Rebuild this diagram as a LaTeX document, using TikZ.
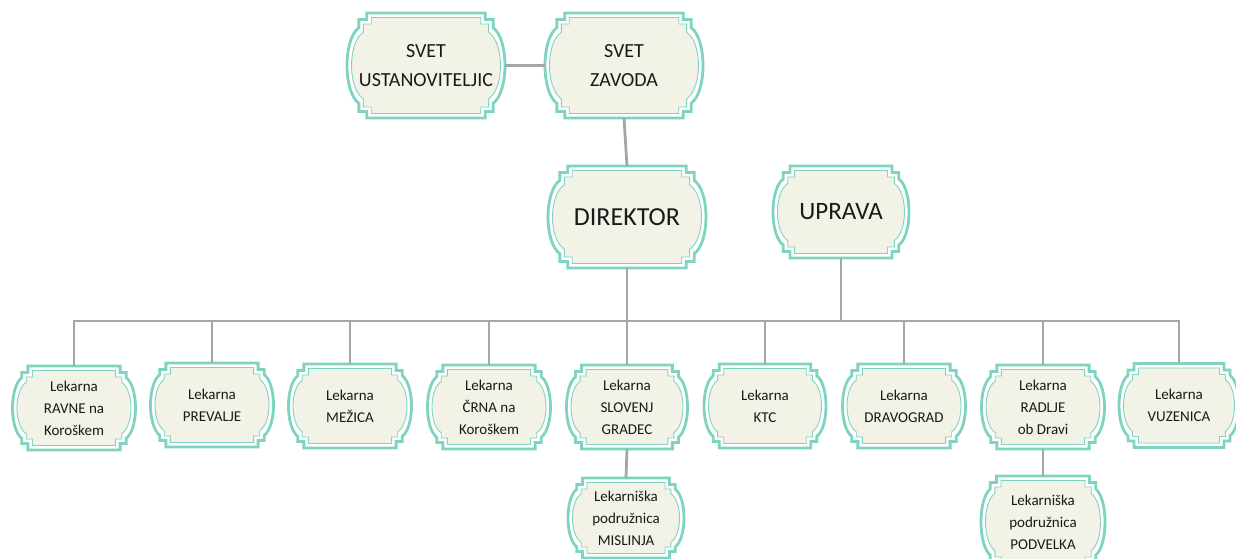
\documentclass[tikz,border=0pt]{standalone}
\usepackage{fontspec}
\setmainfont{Carlito}
\definecolor{tealline}{HTML}{7ED4C0}
\definecolor{cream}{HTML}{F2F2E6}
\definecolor{connc}{HTML}{A6A6A6}
\definecolor{txt}{HTML}{1A1A1A}
\tikzset{
  outerline/.style={draw=tealline, line width=2.8pt, fill=white},
  innerline/.style={draw=tealline, line width=0.9pt, fill=cream},
  lbl/.style={inner sep=0pt, align=center, text=txt},
  conn/.style={draw=connc, line width=2.8pt},
}
% #1 style, #2 cx, #3 cy, #4 half width, #5 half height, #6 a, #7 b, #8 c, #9 e
\newcommand\plaqdraw[9]{%
  \pgfmathsetmacro\pL{#2-(#4)}\pgfmathsetmacro\pR{#2+(#4)}%
  \pgfmathsetmacro\pT{#3-(#5)}\pgfmathsetmacro\pB{#3+(#5)}%
  \pgfmathsetmacro\pf{0.22*(#5)}\pgfmathsetmacro\pk{(#8)/3}%
  \path[#1] (\pL+#6,\pT) -- (\pR-#6,\pT) -- (\pR-#6,\pT+#7) -- (\pR-#8,\pT+#7)
    -- (\pR-#8,\pT+#9) .. controls (\pR+\pk,\pT+#9+\pf) and (\pR+\pk,\pB-#9-\pf) .. (\pR-#8,\pB-#9)
    -- (\pR-#8,\pB-#7) -- (\pR-#6,\pB-#7) -- (\pR-#6,\pB) -- (\pL+#6,\pB) -- (\pL+#6,\pB-#7)
    -- (\pL+#8,\pB-#7) -- (\pL+#8,\pB-#9) .. controls (\pL-\pk,\pB-#9-\pf) and (\pL-\pk,\pT+#9+\pf) .. (\pL+#8,\pT+#9)
    -- (\pL+#8,\pT+#7) -- (\pL+#6,\pT+#7) -- cycle;
}
% #1 name, #2 cx, #3 cy, #4 W, #5 H, #6 font, #7 text
\newcommand\plaque[7]{%
  \pgfmathsetmacro\qa{0.125*#4}\pgfmathsetmacro\qc{0.075*#4}\pgfmathsetmacro\qe{0.14*#5}%
  \plaqdraw{outerline}{#2}{#3}{#4/2}{#5/2}{\qa}{6.5}{\qc}{\qe}%
  \plaqdraw{innerline}{#2}{#3}{#4/2-4.5}{#5/2-4.5}{\qa}{6.5}{\qc}{\qe}%
  \node[lbl, minimum width=#4pt, minimum height=#5pt, font=#6] (#1) at (#2,#3) {#7};%
}
\newcommand\fsmall{\fontsize{15}{22}\selectfont}
\newcommand\ftop{\fontsize{20}{29}\selectfont}
\newcommand\fbig{\fontsize{26}{30}\selectfont}
\begin{document}
\begin{tikzpicture}[x=1pt,y=-1pt]
\useasboundingbox (0,0) rectangle (1236,558);
\plaque{su}{426}{65.5}{158}{105}{\ftop}{SVET\\USTANOVITELJIC}
\plaque{sz}{624}{65.5}{158}{105}{\ftop}{SVET\\ZAVODA}
\plaque{dir}{627}{217}{158}{102}{\fbig}{DIREKTOR}
\plaque{upr}{841}{212}{136}{92}{\fontsize{25}{30}\selectfont}{UPRAVA}
\plaque{b1}{74}{408}{123}{84}{\fsmall}{Lekarna\\RAVNE na\\Koroškem}
\plaque{b2}{212}{405}{123}{84}{\fsmall}{Lekarna\\PREVALJE}
\plaque{b3}{350}{406}{123}{84}{\fsmall}{Lekarna\\MEŽICA}
\plaque{b4}{489}{407}{123}{84}{\fsmall}{Lekarna\\ČRNA na\\Koroškem}
\plaque{b5}{627}{407}{121}{84}{\fsmall}{Lekarna\\SLOVENJ\\GRADEC}
\plaque{b6}{765}{406}{122}{84}{\fsmall}{Lekarna\\KTC}
\plaque{b7}{904}{406}{123}{84}{\fsmall}{Lekarna\\DRAVOGRAD}
\plaque{b8}{1043}{407}{123}{84}{\fsmall}{Lekarna\\RADLJE\\ob Dravi}
\plaque{b9}{1179}{405.5}{120}{84}{\fsmall}{Lekarna\\VUZENICA}
\plaque{mis}{626}{518}{116}{80}{\fsmall}{Lekarniška\\podružnica\\MISLINJA}
\plaque{pod}{1043}{522}{124}{92}{\fsmall}{Lekarniška\\podružnica\\PODVELKA}
\coordinate (bus) at (627,321);
\draw[conn] (su.east) -- (sz.west);
\draw[conn] (sz.south) -- (dir.north);
\draw[conn] (dir.south) -- (bus);
\draw[conn] (upr.south) -- (upr.south |- bus);
\draw[conn] (b1.north) |- (bus) -| (b9.north);
\foreach \n in {b2,b3,b4,b5,b6,b7,b8} {\draw[conn] (\n.north) -- (\n.north |- bus);}
\draw[conn] (b5.south) -- (mis.north);
\draw[conn] (b8.south) -- (pod.north);
\end{tikzpicture}
\end{document}
